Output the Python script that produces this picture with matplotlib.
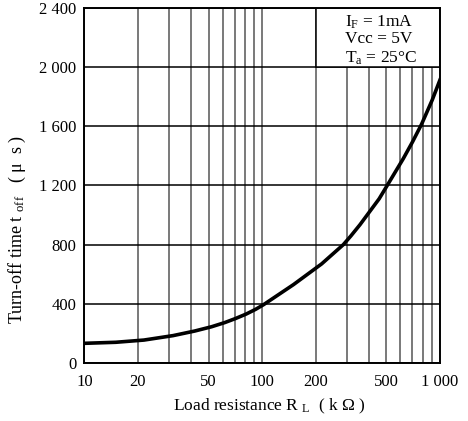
import matplotlib
matplotlib.use("Agg")
import matplotlib.pyplot as plt
from matplotlib.patches import Rectangle
from matplotlib.ticker import FixedLocator, NullFormatter

load_kohm = [10, 15, 21.6, 31.5, 41.7, 51.9, 61.5, 70.9, 81.3, 91.9, 102,
             150, 216, 286, 315, 355, 455, 505, 621, 702, 789, 905, 1000]
toff_us = [133, 140, 155, 185, 216, 245, 273, 301, 331, 363, 395,
           530, 670, 800, 858, 935, 1110, 1200, 1380, 1496, 1615, 1778, 1913]

x_major = [10, 20, 50, 100, 200, 500, 1000]
x_major_labels = ["10", "20", "50", "100", "200", "500", "1 000"]
x_minor = [30, 40, 60, 70, 80, 90, 300, 400, 600, 700, 800, 900]
y_ticks = [0, 400, 800, 1200, 1600, 2000, 2400]
y_labels = ["0", "400", "800", "1 200", "1 600", "2 000", "2 400"]
conditions = ["I$_{\\rm F}$ = 1mA", "Vcc = 5V", "T$_{\\rm a}$ = 25°C"]

plt.rcParams["font.family"] = ["Liberation Serif", "DejaVu Serif"]
plt.rcParams["mathtext.fontset"] = "custom"
plt.rcParams["mathtext.rm"] = "Liberation Serif"
plt.rcParams["mathtext.it"] = "Liberation Serif:italic"

fig = plt.figure(figsize=(4.68, 4.21), dpi=100)
ax = fig.add_axes([0.1805, 0.1378, 0.7595, 0.8432])

ax.set_xscale("log")
ax.set_xlim(10, 1000)
ax.set_ylim(0, 2400)

ax.set_xticks(x_major)
ax.set_xticklabels(x_major_labels)
ax.xaxis.set_minor_locator(FixedLocator(x_minor))
ax.xaxis.set_minor_formatter(NullFormatter())
ax.set_yticks(y_ticks)
ax.set_yticklabels(y_labels)
ax.tick_params(which="both", length=0, labelsize=12, colors="black")
ax.tick_params(axis="x", pad=8)
ax.tick_params(axis="y", pad=6)

ax.set_axisbelow(True)
ax.xaxis.grid(True, which="both", color="#555555", linewidth=1.1)
ax.yaxis.grid(True, color="black", linewidth=1.1)

# white box holding the test conditions
ax.add_patch(Rectangle((200, 2000), 800, 400, facecolor="white",
                       edgecolor="black", linewidth=1.1, zorder=1))
for i, line in enumerate(conditions):
    ax.text(0.733, 0.985 - i * 0.051, line, transform=ax.transAxes,
            ha="left", va="top", fontsize=12.5, zorder=2)

ax.plot(load_kohm, toff_us, color="black", linewidth=2.6, zorder=3,
        solid_joinstyle="round")

for side in ax.spines.values():
    side.set_linewidth(1.4)
    side.set_zorder(4)

ax.set_ylabel("Turn-off time t $_{\\rm off}$   ( μ  s )", fontsize=13)
ax.yaxis.set_label_coords(-0.16, 0.375)
ax.set_xlabel("Load resistance R $_{\\rm L}$  ( k Ω )", fontsize=12.5)
ax.xaxis.set_label_coords(0.52, -0.095)

fig.savefig("out.png", dpi=100)
